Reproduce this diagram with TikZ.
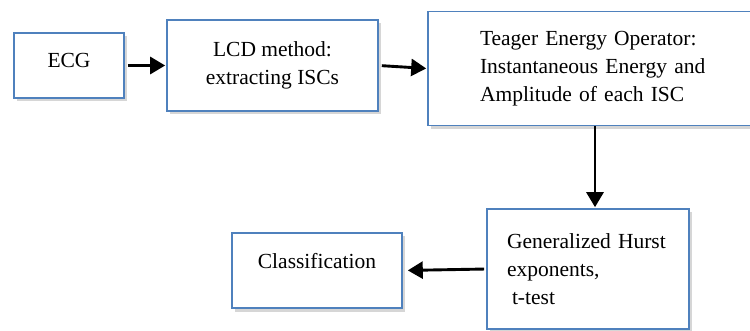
\documentclass[tikz,border=0pt]{standalone}
\usepackage{fontspec}
\setmainfont{Liberation Serif}
\usepackage{xcolor}
\usepackage{tikz}
\usetikzlibrary{arrows.meta, positioning, shadows}
\definecolor{boxblue}{RGB}{79, 129, 189}
\definecolor{shadowgray}{RGB}{120, 120, 120}

\tikzset{
    stage/.style={draw=boxblue, line width=1.6pt, fill=white, inner sep=0pt,
        font=\fontsize{21.5}{28}\selectfont,
        drop shadow={shadow xshift=2.5pt, shadow yshift=-3.5pt, fill=shadowgray, opacity=0.3}},
    flow/.style={line width=2.9pt, -{Triangle[length=15pt, width=17pt]}}
}

\begin{document}
\begin{tikzpicture}[x=1pt, y=-1pt]
    \useasboundingbox (0,0) rectangle (750,331);

    % Processing stages
    \node[stage, minimum width=110pt, minimum height=65pt, text depth=10pt] (ecg) at (69,65.5) {ECG};
    \node[stage, minimum width=211pt, minimum height=91pt, align=center] (lcd) at (272.5,65.5)
        {LCD method:\\extracting ISCs};
    \node[stage, minimum width=346pt, minimum height=114pt, text width=242pt, align=left] (teo) at (601,68.5)
        {Teager Energy Operator:\\Instantaneous Energy and\\Amplitude of each ISC};
    \node[stage, minimum width=202pt, minimum height=120pt, text width=162pt, align=left] (gen) at (588,269)
        {Generalized Hurst\\exponents,\\\hspace*{5pt}t-test};
    \node[stage, minimum width=170pt, minimum height=75pt, text depth=20pt] (cls) at (317,270.5) {Classification};

    % Arrows between stages
    \draw[flow, shorten <=3pt, shorten >=1pt] (ecg.east) -- (lcd.west);
    \draw[flow, shorten <=3pt, shorten >=1pt] (lcd.east) -- (teo.west);
    \draw[flow, shorten >=1pt] ([xshift=-6pt]teo.south) -- ([xshift=-6pt]teo.south |- gen.north);
    \draw[flow, shorten <=2pt, shorten >=5pt] (gen.west) -- (cls.east);
\end{tikzpicture}
\end{document}
